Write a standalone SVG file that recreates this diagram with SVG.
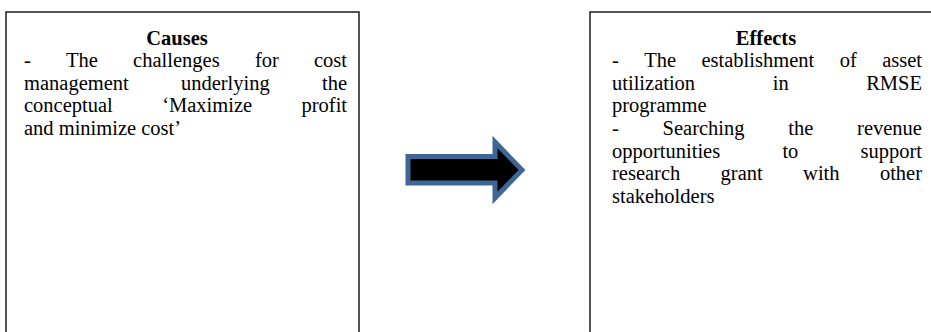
<svg xmlns="http://www.w3.org/2000/svg" width="931" height="332" viewBox="0 0 931 332">
<style>
.box{fill:#fff;stroke:#1a1a1a;stroke-width:1.5}
.t{font-family:"Liberation Serif","Times New Roman",serif;font-size:20.5px;fill:#000}
.h{font-weight:bold;text-anchor:middle}
.arrow{fill:#000;stroke:#3f6796;stroke-width:5;stroke-linejoin:miter}
</style>
<rect width="931" height="332" fill="#fff"/>
<g id="causes">
<rect class="box" x="6" y="12" width="353" height="340"/>
<text class="t h" x="177" y="44.5">Causes</text>
<text class="t" y="67.1"><tspan x="24">-</tspan><tspan x="66">The</tspan><tspan x="133.1">challenges</tspan><tspan x="254.9">for</tspan><tspan x="314">cost</tspan></text>
<text class="t" y="89.7"><tspan x="24">management</tspan><tspan x="180.9">underlying</tspan><tspan x="322">the</tspan></text>
<text class="t" y="112.3"><tspan x="24">conceptual</tspan><tspan x="162.2">‘Maximize</tspan><tspan x="301.5">profit</tspan></text>
<text class="t" x="24" y="134.9">and minimize cost’</text>
</g>
<g id="effects">
<rect class="box" x="590" y="12" width="360" height="340"/>
<text class="t h" x="766" y="44.5">Effects</text>
<text class="t" y="67.1"><tspan x="612">-</tspan><tspan x="644.2">The</tspan><tspan x="701.5">establishment</tspan><tspan x="839.7">of</tspan><tspan x="882.2">asset</tspan></text>
<text class="t" y="89.7"><tspan x="612">utilization</tspan><tspan x="772.7">in</tspan><tspan x="866.2">RMSE</tspan></text>
<text class="t" x="612" y="112.3">programme</text>
<text class="t" y="134.9"><tspan x="612">-</tspan><tspan x="662.6">Searching</tspan><tspan x="788.3">the</tspan><tspan x="857.1">revenue</tspan></text>
<text class="t" y="157.5"><tspan x="612">opportunities</tspan><tspan x="782.4">to</tspan><tspan x="860.5">support</tspan></text>
<text class="t" y="180.1"><tspan x="612">research</tspan><tspan x="720.6">grant</tspan><tspan x="803.1">with</tspan><tspan x="879.9">other</tspan></text>
<text class="t" x="612" y="202.7">stakeholders</text>
</g>
<g id="connectors">
<polygon class="arrow" points="408,156.5 495,156.5 495,142 522,170 495,198 495,183 408,183"/>
</g>
</svg>
